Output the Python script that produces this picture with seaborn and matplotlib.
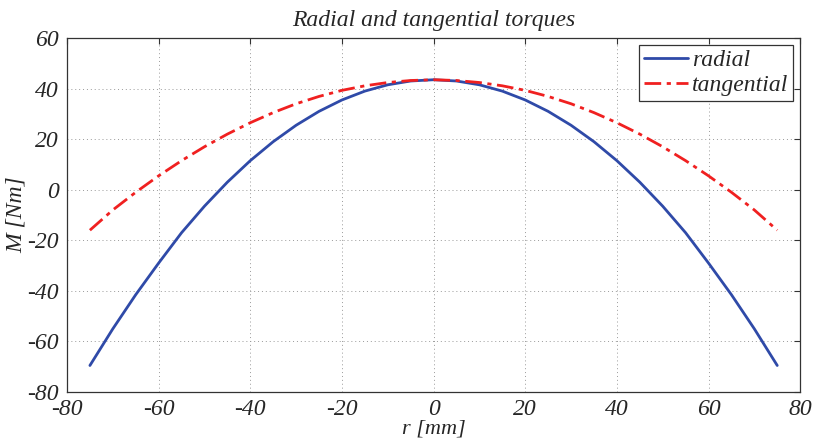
import numpy as np
import pandas as pd
import seaborn as sns
import matplotlib.pyplot as plt

# values at 5 mm steps
r_mm = [-75, -70, -65, -60, -55, -50, -45, -40, -35, -30, -25, -20, -15, -10, -5, 0,
        5, 10, 15, 20, 25, 30, 35, 40, 45, 50, 55, 60, 65, 70, 75]
radial = [-69.5, -55, -41.5, -29, -17, -6.5, 3, 11.5, 19, 25.5, 31, 35.5, 39, 41.5, 43, 43.5,
          43, 41.5, 39, 35.5, 31, 25.5, 19, 11.5, 3, -6.5, -17, -29, -41.5, -55, -69.5]
tangential = [-16, -8, -1, 5.5, 11.5, 17, 22, 26.5, 30.5, 34, 36.9, 39.3, 41.1, 42.4, 43.2, 43.5,
              43.2, 42.4, 41.1, 39.3, 36.9, 34, 30.5, 26.5, 22, 17, 11.5, 5.5, -1, -8, -16]

sns.set_style('white')
plt.rcParams['font.family'] = ['Liberation Serif', 'DejaVu Serif']
plt.rcParams['font.style'] = 'italic'
plt.rcParams['axes.unicode_minus'] = False

df = pd.DataFrame({'r': r_mm, 'radial': radial, 'tangential': tangential})

fig = plt.figure(figsize=(8.14, 4.42), dpi=100)
ax = fig.add_axes([0.0823, 0.113, 0.9007, 0.801])

sns.lineplot(data=df, x='r', y='radial', ax=ax, color='#2f4aa8', lw=2.0, label='radial')
sns.lineplot(data=df, x='r', y='tangential', ax=ax, color='#f02020', lw=2.0,
             label='tangential', dashes=False)
ax.lines[1].set_linestyle((0, (6, 2, 1.5, 2)))

ax.set_xlim(-80, 80)
ax.set_ylim(-80, 60)
ax.set_xticks(np.arange(-80, 81, 20))
ax.set_yticks(np.arange(-80, 61, 20))
ax.grid(True, linestyle=(0, (1, 3)), color='#999999', lw=0.7)
ax.tick_params(direction='in', length=4, labelsize=17, color='#333333', top=True, right=True)
ax.tick_params(axis='x', pad=5)
ax.tick_params(axis='y', pad=6)
for lbl in ax.get_xticklabels() + ax.get_yticklabels():
    lbl.set_fontstyle('italic')
for s in ax.spines.values():
    s.set_color('#333333')
    s.set_linewidth(0.9)

ax.set_xlabel('r [mm]', fontsize=16, labelpad=0)
ax.set_ylabel('M [Nm]', fontsize=17, labelpad=0)
ax.set_title('Radial and tangential torques', fontsize=17, pad=9)

leg = ax.legend(loc='upper right', fontsize=17, frameon=True, fancybox=False,
                framealpha=1, edgecolor='#333333', handlelength=1.9,
                handletextpad=0.15, borderpad=0.2, labelspacing=0.15,
                borderaxespad=0.3)
leg.get_frame().set_linewidth(0.9)

fig.savefig('out.png', dpi=100)
